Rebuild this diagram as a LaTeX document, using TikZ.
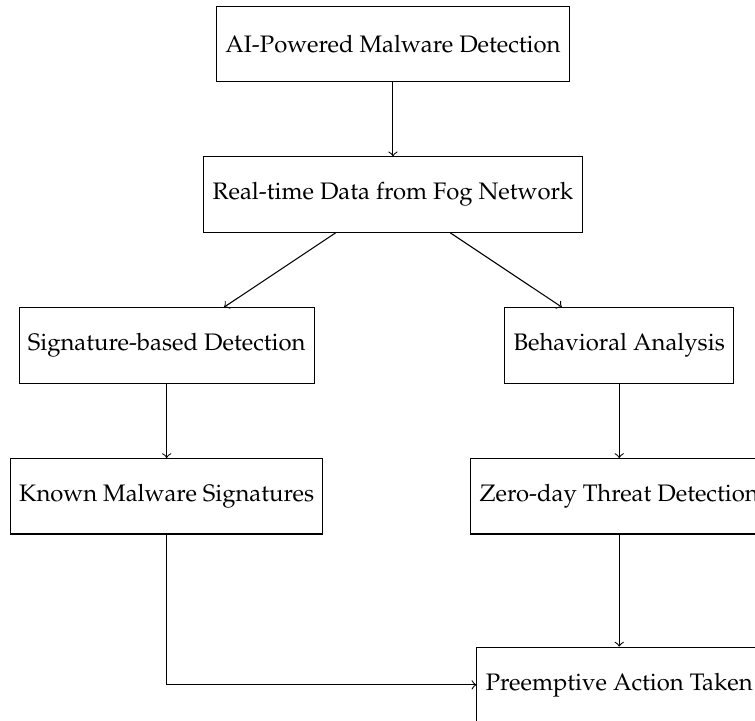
\documentclass[tikz,border=0pt]{standalone}
\usepackage[T1]{fontenc}
\usepackage{mathpazo}
\usepackage{tikz}
\usetikzlibrary{shapes,arrows,positioning}

\begin{document}
\begin{tikzpicture}[
    stagebox/.style={draw, rectangle, minimum height=1cm, font=\fontsize{9}{11}\selectfont},
]
    \clip (-5.21,-8.97) rectangle (4.80,0.58);

    \node[stagebox] (detect) at (0,0) {AI-Powered Malware Detection};
    \node[stagebox] (fogdata) at (0,-2) {Real-time Data from Fog Network};
    \node[stagebox] (sigbased) at (-3,-4) {Signature-based Detection};
    \node[stagebox] (behav) at (3,-4) {Behavioral Analysis};
    \node[stagebox] (knownsig) at (-3,-6) {Known Malware Signatures};
    \node[stagebox] (zeroday) at (3,-6) {Zero-day Threat Detection};
    \node[stagebox] (preempt) at (3,-8.5) {Preemptive Action Taken};

    \draw[->] (detect) -- (fogdata);
    \draw[->] (fogdata) -- (sigbased);
    \draw[->] (fogdata) -- (behav);
    \draw[->] (sigbased) -- (knownsig);
    \draw[->] (behav) -- (zeroday);

    % both branches end in one action
    \draw[->] (knownsig) |- (preempt);
    \draw[->] (zeroday) -- (preempt);
\end{tikzpicture}
\end{document}
